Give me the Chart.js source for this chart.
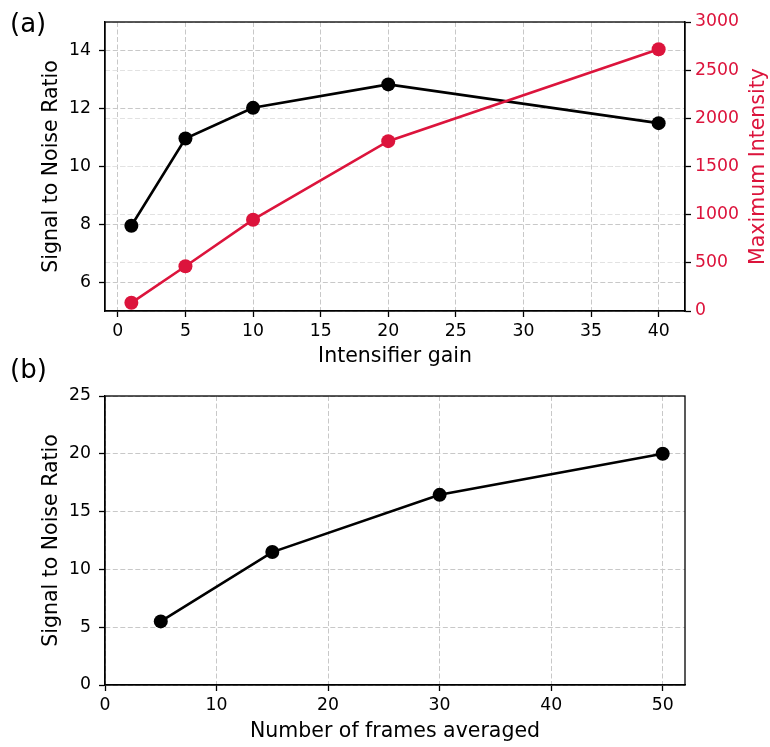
<!DOCTYPE html>
<html>
<head>
<meta charset="utf-8">
<script src="https://cdn.jsdelivr.net/npm/chart.js@4/dist/chart.umd.min.js"></script>
<style>
  body { margin: 0; background: #fff; }
  #wrap { position: relative; width: 770px; height: 747px; font-family: "DejaVu Sans", sans-serif; }
  canvas { position: absolute; left: 0; }
  .panel-tag { position: absolute; font-size: 26px; line-height: 1; color: #000; }
</style>
</head>
<body>
<div id="wrap">
  <canvas id="chart-a" width="770" height="372" style="top:0"></canvas>
  <canvas id="chart-b" width="770" height="375" style="top:372px"></canvas>
  <div class="panel-tag" style="left:10px; top:10px">(a)</div>
  <div class="panel-tag" style="left:10px; top:356px">(b)</div>
</div>
<script>
// panel (a): intensifier gain
const gains = [1, 5, 10, 20, 40];
const snrByGain = [7.95, 10.97, 12.03, 12.84, 11.5];
const maxIntensity = [85, 465, 948, 1763, 2717];
const gainTicks = [0, 5, 10, 15, 20, 25, 30, 35, 40];
const snrTicksA = [6, 8, 10, 12, 14];
const intensityTicks = [0, 500, 1000, 1500, 2000, 2500, 3000];

// panel (b): frames averaged
const frames = [5, 15, 30, 50];
const snrByFrames = [5.5, 11.5, 16.45, 20.0];
const frameTicks = [0, 10, 20, 30, 40, 50];
const snrTicksB = [0, 5, 10, 15, 20, 25];

const FONT = "DejaVu Sans";
const tickFont = { family: FONT, size: 17.3 };
const labelFont = { family: FONT, size: 20.5 };
const RED = "#dc143c";
const GRID = "#c8c8c8";
const DASH = [5, 2.5];

const toPoints = (xs, ys) => xs.map((x, i) => ({ x: x, y: ys[i] }));
const fixedTicks = values => scale => { scale.ticks = values.map(v => ({ value: v })); };
const plain = v => String(v);

// full box around the plot area, like matplotlib spines
const frame = {
  id: "frame",
  afterDraw(chart) {
    const { ctx, chartArea: a } = chart;
    ctx.save();
    ctx.strokeStyle = "#000";
    ctx.lineWidth = 1.3;
    ctx.strokeRect(a.left, a.top, a.right - a.left, a.bottom - a.top);
    ctx.restore();
  }
};

// right-hand label reads bottom-to-top as in the original
const rightLabel = {
  id: "rightLabel",
  afterDraw(chart) {
    const { ctx, chartArea: a } = chart;
    ctx.save();
    ctx.translate(a.right + 74, (a.top + a.bottom) / 2);
    ctx.rotate(-Math.PI / 2);
    ctx.fillStyle = RED;
    ctx.font = "20.5px 'DejaVu Sans'";
    ctx.textAlign = "center";
    ctx.textBaseline = "middle";
    ctx.fillText("Maximum Intensity", 0, 0);
    ctx.restore();
  }
};

function xAxis(min, max, ticks, title, height, titlePad) {
  return {
    type: "linear", min: min, max: max,
    afterBuildTicks: fixedTicks(ticks),
    afterFit: s => { s.height = height; },
    grid: { color: GRID, lineWidth: 1, tickLength: 6, tickColor: "#000", tickWidth: 1.3 },
    border: { color: "#000", width: 1.3, dash: DASH },
    ticks: { color: "#000", font: tickFont, padding: 4, maxRotation: 0, autoSkip: false, callback: plain },
    title: { display: true, text: title, color: "#000", font: labelFont, padding: { top: 0, bottom: titlePad } }
  };
}

function yAxis(min, max, ticks) {
  return {
    type: "linear", position: "left", min: min, max: max,
    afterBuildTicks: fixedTicks(ticks),
    afterFit: s => { s.width = 105; },
    grid: { color: GRID, lineWidth: 1, tickLength: 6, tickColor: "#000", tickWidth: 1.3 },
    border: { color: "#000", width: 1.3, dash: DASH },
    ticks: { color: "#000", font: tickFont, padding: 8, autoSkip: false, callback: plain },
    title: { display: true, text: "Signal to Noise Ratio", color: "#000", font: labelFont, padding: { top: 39, bottom: 0 } }
  };
}

const lineStyle = color => ({
  borderColor: color,
  backgroundColor: color,
  borderWidth: 2.6,
  pointRadius: 7,
  pointBorderWidth: 0,
  pointBackgroundColor: color,
  tension: 0
});

new Chart(document.getElementById("chart-a"), {
  type: "line",
  data: {
    datasets: [
      { label: "Maximum Intensity", data: toPoints(gains, maxIntensity), yAxisID: "y1", ...lineStyle(RED) },
      { label: "Signal to Noise Ratio", data: toPoints(gains, snrByGain), yAxisID: "y", ...lineStyle("#000") }
    ]
  },
  options: {
    responsive: false,
    animation: false,
    layout: { padding: { top: 22, left: 0, right: 0, bottom: 0 } },
    plugins: { legend: { display: false }, tooltip: { enabled: false } },
    scales: {
      x: xAxis(-0.95, 41.95, gainTicks, "Intensifier gain", 61, 3),
      y: yAxis(5, 15, snrTicksA),
      y1: {
        type: "linear", position: "right", min: 0, max: 3000,
        afterBuildTicks: fixedTicks(intensityTicks),
        afterFit: s => { s.width = 85; },
        grid: { color: "#e2e2e2", lineWidth: 1, tickLength: 6, tickColor: "#000", tickWidth: 1.3 },
        border: { color: "#000", width: 1.3, dash: DASH },
        ticks: { color: RED, font: tickFont, padding: 4, autoSkip: false, callback: plain },
        title: { display: false }
      }
    }
  },
  plugins: [frame, rightLabel]
});

new Chart(document.getElementById("chart-b"), {
  type: "line",
  data: {
    datasets: [
      { label: "Signal to Noise Ratio", data: toPoints(frames, snrByFrames), ...lineStyle("#000") }
    ]
  },
  options: {
    responsive: false,
    animation: false,
    layout: { padding: { top: 24, left: 0, right: 85, bottom: 0 } },
    plugins: { legend: { display: false }, tooltip: { enabled: false } },
    scales: {
      x: xAxis(0, 52, frameTicks, "Number of frames averaged", 62, 3.5),
      y: yAxis(0, 25, snrTicksB)
    }
  },
  plugins: [frame]
});
</script>
</body>
</html>
